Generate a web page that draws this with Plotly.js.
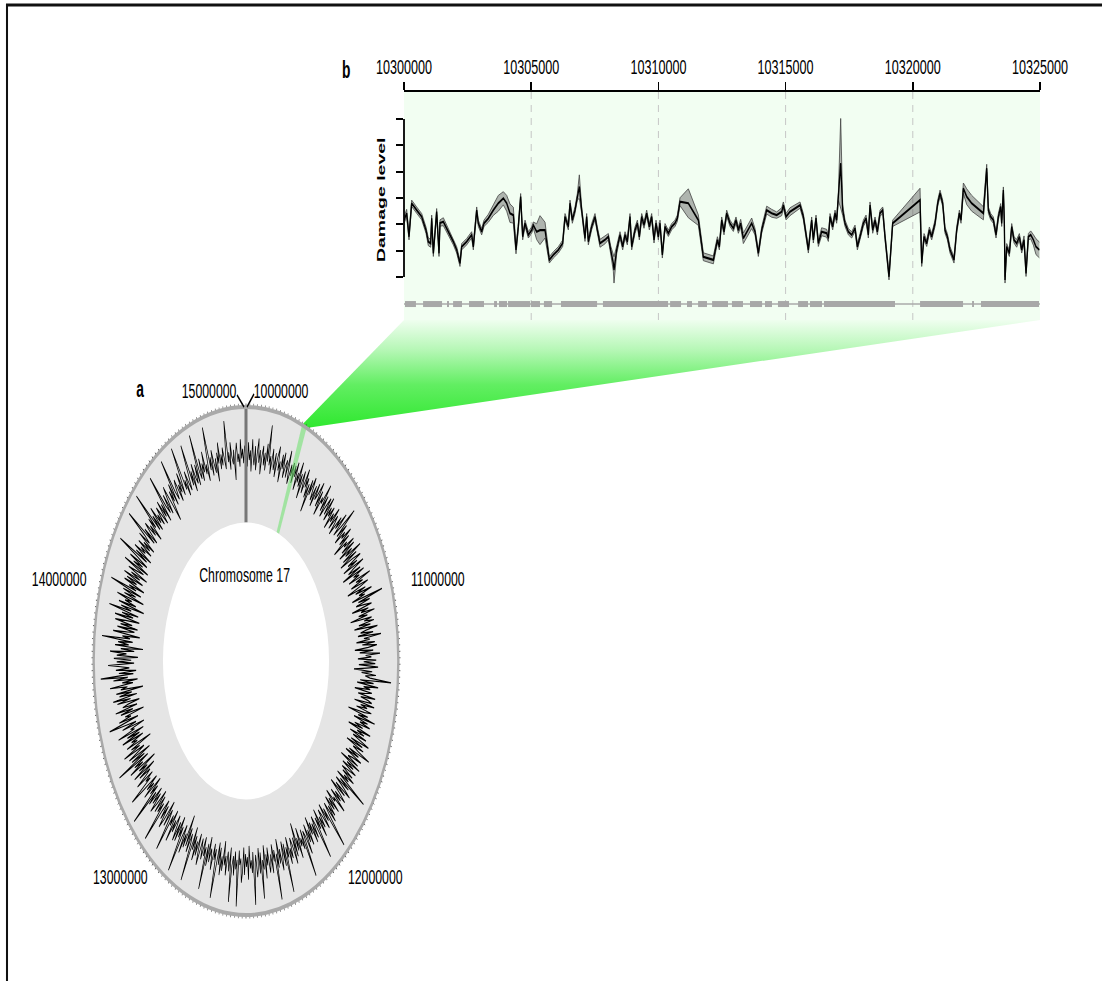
<!DOCTYPE html>
<html>
<head>
<meta charset="utf-8">
<script src="https://cdn.plot.ly/plotly-3.0.1.min.js"></script>
<style>
  html, body { margin: 0; padding: 0; overflow: hidden; background: #fff; }
  #wrap { width: 1102px; height: 981px; overflow: hidden; position: relative; }
  /* the figure is laid out wide and narrowed horizontally, so glyphs come out condensed */
  #fig { width: 1837px; height: 981px; transform: scaleX(0.599891); transform-origin: 0 0; }
</style>
</head>
<body>
<div id="wrap"><div id="fig"></div></div>
<script>
// ---------------- data ----------------
const CHROM_START = 10000000;
const CHROM_END = 15000000;
const CIRCLE_TICK_STEP = 20000;
const circleLabelText = ['15000000', '10000000', '11000000', '12000000', '13000000', '14000000'];

// damage level per bin along the chromosome segment (circular track), clockwise from the top
const circleDamage = [
  2.8,1.6,3.1,2.0,2.6,1.3,3.3,2.2,1.7,2.9,1.4,2.5,3.4,1.9,2.7,1.2,2.4,3.0,1.8,2.6,1.5,3.2,2.1,4.4,1.9,
  2.5,1.4,3.0,2.2,1.7,2.8,1.3,2.6,3.3,1.8,2.4,1.1,2.9,2.0,3.1,1.5,2.3,2.7,1.6,3.4,2.0,1.3,2.6,1.9,2.8,
  1.5,2.7,2.0,3.0,1.2,2.4,1.8,3.2,1.6,2.5,0.9,2.8,2.1,1.4,3.1,1.9,2.6,1.3,2.3,0.4,2.7,1.7,3.0,2.2,1.5,
  2.6,1.2,2.9,1.8,2.3,3.2,1.5,2.7,1.0,2.4,2.0,3.5,1.6,2.8,1.3,2.2,2.9,1.7,3.1,1.4,2.5,1.9,2.7,1.1,2.4,
  1.8,3.0,1.4,2.6,2.1,1.2,2.8,1.9,3.3,1.5,2.4,4.1,1.7,2.9,1.3,2.5,2.0,3.1,1.6,2.7,0.8,2.3,1.9,3.0,1.5,
  2.9,1.1,2.5,1.7,3.4,1.3,2.8,0.9,2.3,3.1,1.6,2.6,1.0,3.2,2.0,1.4,2.7,0.7,3.0,1.8,2.4,1.2,3.5,1.9,2.6,
  1.3,3.1,2.2,0.8,2.7,1.6,3.3,1.9,2.5,1.1,4.3,1.7,2.9,1.4,2.3,3.0,0.9,2.6,1.8,3.2,1.5,2.4,0.6,2.8,2.0,
  3.0,1.4,2.6,0.9,3.3,2.1,1.5,2.8,1.2,3.6,1.8,2.4,1.0,2.9,1.6,3.1,2.2,0.8,2.7,1.3,3.4,1.9,2.5,1.1,3.0,
  1.7,2.9,1.2,3.2,2.0,0.7,2.6,1.5,3.0,1.9,2.4,4.6,1.4,2.8,1.1,3.3,1.8,2.5,0.9,2.7,2.1,1.3,3.1,1.6,2.4,
  2.8,1.0,3.1,1.7,2.4,1.3,2.9,2.2,0.5,2.6,1.6,3.4,1.2,2.7,1.9,3.0,1.4,2.3,0.8,3.2,1.8,2.6,1.1,2.9,1.5,
  2.3,3.3,1.4,2.7,1.0,2.9,1.8,2.4,3.7,1.5,2.6,1.2,3.0,2.0,1.6,2.8,0.9,3.1,1.7,2.5,1.3,2.9,2.1,1.4,2.7,
  1.6,3.0,1.9,2.5,1.2,4.6,1.7,2.8,1.3,2.4,3.2,1.5,2.7,1.0,2.3,3.0,1.8,2.6,1.4,3.3,1.9,2.2,1.1,2.9,1.6,
  2.5,1.3,2.8,1.9,3.1,1.5,2.4,4.8,1.7,2.6,1.2,3.0,2.0,1.4,2.7,1.8,3.2,1.1,2.5,1.6,4.5,2.1,1.3,2.8,1.7,
  3.0,1.5,2.3,1.0,2.9,1.8,2.6,1.3,3.3,2.0,1.6,4.7,1.4,2.7,1.9,2.4,1.1,3.1,1.7,2.5,0.6,2.8,1.5,3.2,1.9,
  1.4,2.7,2.0,3.0,1.2,2.5,1.8,4.7,1.5,2.9,1.3,2.4,3.1,1.7,2.6,1.0,2.8,1.9,4.8,1.6,2.3,1.2,3.0,1.8,2.5,
  2.9,1.3,2.4,1.7,3.2,1.1,2.6,2.0,4.4,1.5,2.8,1.2,2.5,3.0,1.6,2.2,4.7,1.4,2.7,1.9,2.4,1.0,3.1,1.7,2.3,
  1.5,2.8,1.1,2.6,3.3,1.8,2.2,1.3,4.8,1.9,2.5,1.4,2.9,1.7,2.3,4.6,1.2,2.7,2.0,1.5,3.0,1.8,2.4,0.9,2.8,
  1.9,3.1,1.4,2.5,1.1,2.8,4.7,1.6,2.3,1.3,3.0,2.1,1.7,2.6,1.0,2.9,1.5,4.5,1.8,2.4,1.2,2.7,2.0,1.4,3.2,
  2.4,1.2,2.7,1.8,3.1,1.5,2.5,1.0,4.7,2.2,1.6,2.9,1.3,2.6,0.5,2.8,1.9,3.3,1.4,2.3,4.8,1.7,2.5,1.1,2.9,
  1.6,3.0,2.0,1.3,2.6,1.8,3.4,1.2,2.4,1.7,4.4,2.1,1.5,2.8,1.0,2.5,3.2,1.6,2.7,1.3,2.2,4.7,1.8,2.6,1.4,
  2.8,1.1,2.3,3.1,1.6,2.6,1.3,2.9,1.9,4.8,1.5,2.4,1.0,3.0,1.7,2.5,1.2,2.8,4.2,1.8,2.3,1.4,3.2,2.0,1.5,
  2.7,0.9,3.2,1.6,2.5,0.6,3.4,1.9,2.8,1.2,4.5,1.5,2.9,0.8,3.1,2.0,1.3,3.5,1.7,2.6,0.4,3.0,1.8,2.4,1.1,
  3.3,1.4,2.7,0.9,3.6,1.8,2.2,0.7,3.0,1.5,2.8,4.3,1.2,3.2,1.9,2.5,0.5,2.9,1.6,3.4,1.1,2.6,2.0,0.8,3.1,
  1.7,3.5,1.0,2.8,1.5,3.1,0.3,2.6,1.9,3.7,1.3,2.4,0.8,3.3,1.8,4.6,1.2,2.7,0.9,3.0,1.6,2.5,3.8,1.1,2.9,
  1.4,3.2,0.7,2.9,1.9,3.6,1.1,2.5,0.2,3.1,1.7,2.8,1.3,4.5,1.6,2.4,0.6,3.4,2.0,1.2,3.0,0.9,2.7,1.5,3.3,
  2.1,0.8,3.4,1.5,2.7,1.0,4.1,1.8,2.9,0.5,3.2,1.4,2.6,1.9,3.5,0.7,2.8,1.6,3.0,1.1,4.4,1.7,2.5,0.9,3.1,
  1.8,2.9,1.2,3.3,1.6,2.6,0.9,3.0,2.1,1.4,3.6,1.0,2.7,1.7,3.2,1.3,2.4,4.6,1.5,2.8,1.1,3.1,1.9,2.5,1.3,
  2.9,1.6,2.4,1.2,3.1,1.9,2.6,4.7,1.5,2.8,1.3,2.3,3.0,1.7,2.5,1.1,2.9,2.0,4.8,1.6,2.7,1.4,3.2,1.8,2.4,
  1.5,2.8,2.1,1.3,3.0,1.7,2.6,1.2,4.6,2.2,1.6,2.9,1.4,2.5,3.3,1.8,0.6,2.7,1.9,3.1,1.5,4.7,2.3,1.7,2.6,
  3.0,1.4,2.5,1.9,3.2,1.6,2.8,4.8,1.8,2.4,1.3,2.9,2.1,1.5,2.7,4.5,1.7,2.6,1.2,3.0,2.0,1.6,2.8,1.4,4.7,
  2.2,1.7,3.0,1.5,2.6,2.0,3.3,1.8,2.4,1.3,2.9,4.7,1.9,2.7,1.5,3.1,2.2,1.6,2.5,1.0,2.8,2.1,3.4,1.7,2.6,
  1.9,3.0,2.3,1.6,2.8,4.6,2.0,2.6,1.5,3.2,2.2,1.8,2.7,0.8,2.5,3.1,1.9,2.4,1.6,3.3,2.1,2.7,1.8,2.9,2.3
];

// zoomed window
const ZOOM_START = 10300000;
const ZOOM_END = 10325000;
const zoomTicks = [10300000, 10305000, 10310000, 10315000, 10320000, 10325000];
const damageTicks = [0, 1, 2, 3, 4, 5, 6];

const damagePos = [
  10300000,10300105,10300197,10300301,10300498,10300695,10300865,10300957,10301048,10301088,
  10301153,10301284,10301376,10301415,10301546,10301743,10301939,10302070,10302201,10302267,
  10302463,10302660,10302725,10302857,10302922,10303053,10303145,10303315,10303512,10303708,
  10303905,10304036,10304167,10304298,10304403,10304494,10304586,10304665,10304757,10304888,
  10305019,10305084,10305215,10305346,10305543,10305713,10305870,10306067,10306237,10306329,
  10306460,10306525,10306617,10306722,10306814,10306892,10306984,10307115,10307180,10307246,
  10307377,10307508,10307600,10307705,10307901,10308032,10308124,10308229,10308255,10308360,
  10308491,10308596,10308688,10308779,10308884,10308950,10309081,10309173,10309251,10309343,
  10309434,10309539,10309644,10309736,10309828,10309906,10309998,10310063,10310155,10310260,
  10310391,10310522,10310653,10310745,10310850,10311177,10311570,10311767,10312160,10312320,
  10312396,10312488,10312579,10312684,10312815,10312946,10313051,10313143,10313234,10313339,
  10313667,10313798,10313929,10314060,10314257,10314453,10314650,10314847,10314912,10315017,
  10315174,10315567,10315698,10315894,10316025,10316091,10316196,10316287,10316418,10316615,
  10316681,10316746,10316851,10316943,10317008,10317074,10317165,10317244,10317336,10317467,
  10317598,10317729,10317821,10317926,10318057,10318162,10318253,10318319,10318424,10318515,
  10318607,10318712,10318817,10318908,10319065,10319209,10320284,10320350,10320441,10320546,
  10320651,10320743,10320874,10320979,10321071,10321175,10321267,10321359,10321463,10321620,
  10321725,10321830,10321896,10321988,10322119,10322315,10322774,10322905,10322970,10323062,
  10323167,10323272,10323363,10323455,10323494,10323560,10323599,10323625,10323691,10323796,
  10323888,10323979,10324084,10324189,10324281,10324372,10324451,10324543,10324635,10324740,
  10324843,10324974
];
const damageMean = [
  2.16,2.42,1.53,2.80,2.54,2.29,1.78,1.34,1.28,2.23,
  0.90,2.48,0.90,2.05,2.10,1.72,1.34,1.03,0.52,1.15,
  1.34,1.60,1.15,2.54,2.04,1.72,2.04,2.23,2.54,2.80,
  2.99,2.80,2.42,2.35,1.03,1.91,3.05,1.53,2.04,1.60,
  1.78,1.97,1.72,1.78,1.78,0.65,0.84,1.03,1.28,2.29,
  1.91,2.80,2.16,2.54,3.05,3.43,2.54,1.47,2.29,1.34,
  1.91,2.29,1.78,1.28,1.41,1.53,1.03,0.52,0.27,1.03,
  1.60,1.15,1.60,1.34,2.29,1.15,1.78,2.04,1.53,2.29,
  1.97,2.42,1.91,2.29,1.41,2.04,1.53,2.04,0.84,1.91,
  1.66,1.91,2.04,2.23,2.86,2.80,2.16,0.77,0.65,1.41,
  1.15,2.16,1.72,2.42,2.04,1.85,2.16,1.78,2.04,1.47,
  2.04,1.72,0.90,1.78,2.54,2.42,2.35,2.48,2.73,2.29,
  2.48,2.73,2.29,1.03,2.16,1.41,2.23,1.28,1.72,1.66,
  1.47,2.29,1.91,2.42,2.16,3.05,4.32,2.54,2.04,1.72,
  1.60,1.85,1.15,1.53,2.04,2.23,1.60,2.73,1.78,2.16,
  1.72,2.42,2.54,1.53,0.01,2.04,2.92,0.52,1.53,1.28,
  1.78,1.53,2.04,2.80,3.18,2.80,1.78,1.53,1.03,0.65,
  1.78,2.42,2.16,3.37,3.05,2.80,2.42,4.13,2.54,2.29,
  2.16,1.60,2.29,2.67,2.04,3.30,2.04,-0.11,1.15,0.90,
  1.91,1.41,1.28,1.53,1.03,1.41,0.14,1.53,1.60,1.41,
  1.15,1.03
];
// half-width of the interval drawn around the mean
const damageSpread = [
  0.12,0.15,0.12,0.12,0.12,0.12,0.12,0.15,0.15,0.12,
  0.12,0.12,0.12,0.12,0.15,0.12,0.12,0.12,0.12,0.12,
  0.12,0.12,0.12,0.12,0.12,0.12,0.12,0.15,0.20,0.30,
  0.25,0.30,0.35,0.30,0.15,0.12,0.12,0.12,0.12,0.12,
  0.12,0.12,0.30,0.55,0.30,0.12,0.12,0.12,0.12,0.12,
  0.12,0.12,0.12,0.12,0.12,0.45,0.12,0.12,0.12,0.12,
  0.12,0.12,0.12,0.15,0.15,0.12,0.15,0.30,0.50,0.15,
  0.12,0.12,0.12,0.12,0.12,0.12,0.12,0.12,0.12,0.12,
  0.12,0.12,0.12,0.12,0.12,0.12,0.12,0.12,0.12,0.12,
  0.12,0.12,0.12,0.12,0.15,0.55,0.20,0.15,0.15,0.12,
  0.12,0.12,0.12,0.12,0.12,0.12,0.12,0.12,0.15,0.20,
  0.20,0.12,0.12,0.12,0.15,0.15,0.12,0.15,0.12,0.12,
  0.15,0.12,0.12,0.12,0.12,0.12,0.12,0.12,0.15,0.15,
  0.12,0.12,0.12,0.12,0.12,0.15,1.70,0.20,0.12,0.12,
  0.12,0.12,0.12,0.12,0.12,0.12,0.12,0.12,0.12,0.12,
  0.12,0.12,0.12,0.12,0.12,0.12,0.45,0.12,0.12,0.12,
  0.12,0.12,0.12,0.12,0.12,0.12,0.12,0.12,0.12,0.12,
  0.12,0.12,0.12,0.20,0.30,0.30,0.25,0.15,0.12,0.12,
  0.12,0.12,0.12,0.12,0.12,0.12,0.12,0.12,0.12,0.12,
  0.12,0.12,0.15,0.12,0.12,0.15,0.12,0.12,0.15,0.20,
  0.30,0.30
];

// gene model in the window (exon blocks)
const exonStart = [10300040,10300750,10301690,10301930,10302555,10303540,10303735,10304090,10304990,10305500,
  10306170,10307820,10310460,10311125,10311560,10312110,10312890,10313600,10314190,10314700,
  10315490,10315960,10316510,10320285,10322330,10322680];
const exonEnd = [10300470,10301495,10301770,10302280,10303145,10303655,10304050,10304955,10305345,10305820,
  10307590,10310380,10310890,10311320,10311910,10312735,10313325,10314075,10314465,10315135,
  10315880,10316430,10319300,10321975,10322405,10324960];

// ---------------- layout geometry (page pixels as shown) ----------------
const VIEW_W = 1102, W = 1837, H = 981;
const SX = VIEW_W / W;
const FONT = 'Liberation Sans, Arial, Helvetica, sans-serif';
const fx = x => x / VIEW_W;
const fy = y => 1 - y / H;

const panelB = { x0: 404, x1: 1040, y0: 92, y1: 320 };
const ring = { cx: 246, cy: 661, R: 254, hole: 0.545 };
const R_MIN = -1.9, R_MAX = 5.3;       // radial scale of the circular track
const GENE_LEVEL = 0.07;               // gene track height inside panel b

const toDeg = g => (g - CHROM_START) / (CHROM_END - CHROM_START) * 360;
const binSize = (CHROM_END - CHROM_START) / circleDamage.length;
const circleTheta = circleDamage.map((_, i) => toDeg(CHROM_START + (i + 0.5) * binSize));

// page position of a chromosome coordinate on the outer edge of the ring
function ringEdge(g) {
  const a = toDeg(g) * Math.PI / 180;
  return [ring.cx + ring.R * SX * Math.sin(a), ring.cy - ring.R * Math.cos(a)];
}

const lower = damageMean.map((m, i) => m - damageSpread[i]);
const upper = damageMean.map((m, i) => m + damageSpread[i]);

// gene exons as separated segments
const exonX = [], exonY = [];
exonStart.forEach((s, i) => { exonX.push(s, exonEnd[i], null); exonY.push(GENE_LEVEL, GENE_LEVEL, null); });

// zoom funnel from the ring to panel b
const apexA = ringEdge(ZOOM_START), apexB = ringEdge(ZOOM_END);
const funnelX = [panelB.x0, panelB.x1, apexB[0], apexA[0], panelB.x0];
const funnelY = [panelB.y1, panelB.y1, apexB[1], apexA[1], panelB.y1];

const zs = toDeg(ZOOM_START), ze = toDeg(ZOOM_END);

const traces = [
  { type: 'scatter', x: damagePos, y: lower, mode: 'lines', line: { color: '#444', width: 1 },
    hoverinfo: 'skip', xaxis: 'x', yaxis: 'y' },
  { type: 'scatter', x: damagePos, y: upper, mode: 'lines', line: { color: '#444', width: 1 },
    fill: 'tonexty', fillcolor: 'rgba(90,90,90,0.45)', hoverinfo: 'skip', xaxis: 'x', yaxis: 'y' },
  { type: 'scatter', x: damagePos, y: damageMean, mode: 'lines', line: { color: '#000', width: 2.2 },
    xaxis: 'x', yaxis: 'y', name: 'Damage level' },
  { type: 'scatter', x: [ZOOM_START, ZOOM_END], y: [GENE_LEVEL, GENE_LEVEL], mode: 'lines',
    line: { color: '#aaaaaa', width: 1.5 }, hoverinfo: 'skip', xaxis: 'x', yaxis: 'y3' },
  { type: 'scatter', x: exonX, y: exonY, mode: 'lines', line: { color: '#a8a8a8', width: 6 },
    hoverinfo: 'skip', xaxis: 'x', yaxis: 'y3' },
  { type: 'scatter', x: funnelX, y: funnelY, mode: 'lines', line: { width: 0 }, fill: 'toself',
    fillgradient: { type: 'vertical',
      colorscale: [[0, '#2fe82f'], [0.4, '#62ee62'], [0.72, '#b5f7b5'], [1, '#effeef']] },
    hoverinfo: 'skip', xaxis: 'x2', yaxis: 'y2' },
  { type: 'scatterpolar', r: circleDamage, theta: circleTheta, mode: 'lines',
    line: { color: '#000', width: 1.2 }, subplot: 'polar', name: 'Chromosome 17' },
  { type: 'scatterpolar', r: [R_MAX, R_MAX, R_MIN, R_MIN, R_MAX], theta: [zs, ze, ze, zs, zs],
    mode: 'lines', line: { width: 0 }, fill: 'toself', fillcolor: 'rgba(105,225,105,0.55)',
    hoverinfo: 'skip', subplot: 'polar' },
  { type: 'scatterpolar', r: [R_MIN, R_MAX], theta: [0, 0], mode: 'lines',
    line: { color: '#777777', width: 5 }, hoverinfo: 'skip', subplot: 'polar' }
];

const txt = (text, x, y, size, extra) => Object.assign({
  text, x: fx(x), y: fy(y), xref: 'paper', yref: 'paper', showarrow: false,
  xanchor: 'center', yanchor: 'middle', font: { family: FONT, size, color: '#000' }
}, extra || {});

const annotations = [
  txt('<b>b</b>', 346, 70, 23),
  txt('<b>a</b>', 140, 389, 23),
  txt('<b>Damage level</b>', 381, 200, 19.5, { textangle: -90 }),
  txt('Chromosome 17', ring.cx - 1, 574, 20.5),
  txt(circleLabelText[0], 209, 390, 20.5),
  txt(circleLabelText[1], 281, 390, 20.5),
  txt(circleLabelText[2], 438, 578, 20.5),
  txt(circleLabelText[3], 375, 876, 20.5),
  txt(circleLabelText[4], 120, 876, 20.5),
  txt(circleLabelText[5], 59, 578, 20.5)
];

const topY = ring.cy - ring.R;
const shapes = [
  { type: 'rect', xref: 'paper', yref: 'paper', x0: fx(panelB.x0), x1: fx(panelB.x1),
    y0: fy(panelB.y1), y1: fy(panelB.y0), fillcolor: '#f2fef2', line: { width: 0 }, layer: 'below' },
  { type: 'line', xref: 'x domain', yref: 'y', x0: 0, x1: 0, y0: damageTicks[0],
    y1: damageTicks[damageTicks.length - 1], line: { color: '#000', width: 3 } },
  // outer rim of the ring
  { type: 'circle', xref: 'paper', yref: 'paper',
    x0: fx(ring.cx - ring.R * SX), x1: fx(ring.cx + ring.R * SX), y0: fy(ring.cy + ring.R), y1: fy(ring.cy - ring.R),
    line: { color: '#a9a9a9', width: 4 }, fillcolor: 'rgba(0,0,0,0)', layer: 'above' },
  // leader lines for the two labels sharing the start/end position
  { type: 'line', xref: 'paper', yref: 'paper', x0: fx(ring.cx - 2), y0: fy(topY), x1: fx(ring.cx - 9), y1: fy(topY - 12),
    line: { color: '#000', width: 2 } },
  { type: 'line', xref: 'paper', yref: 'paper', x0: fx(ring.cx + 1), y0: fy(topY), x1: fx(ring.cx + 8), y1: fy(topY - 13),
    line: { color: '#000', width: 2 } },
  // frame
  { type: 'line', xref: 'paper', yref: 'paper', x0: fx(6), x1: 1, y0: fy(5), y1: fy(5),
    line: { color: '#111', width: 3 }, layer: 'above' },
  { type: 'line', xref: 'paper', yref: 'paper', x0: fx(7), x1: fx(7), y0: fy(4), y1: 0,
    line: { color: '#111', width: 3.4 }, layer: 'above' }
];

const layout = {
  width: W, height: H, margin: { l: 0, r: 0, t: 0, b: 0 },
  paper_bgcolor: '#ffffff', plot_bgcolor: 'rgba(0,0,0,0)', showlegend: false,
  font: { family: FONT, color: '#000' },
  xaxis: {
    domain: [fx(panelB.x0), fx(panelB.x1)], anchor: 'y', side: 'top',
    range: [ZOOM_START, ZOOM_END], tickmode: 'array', tickvals: zoomTicks, ticktext: zoomTicks.map(String),
    ticks: 'outside', ticklen: 8, tickwidth: 2.5, tickcolor: '#000',
    showline: true, linewidth: 2, linecolor: '#000',
    showgrid: true, gridcolor: '#c4c4c4', gridwidth: 1.6, griddash: '7px,6px',
    zeroline: false, tickfont: { family: FONT, size: 21, color: '#000' }, fixedrange: true
  },
  yaxis: {
    domain: [fy(panelB.y1), fy(panelB.y0)], anchor: 'x',
    range: [-1.633, 7.026], tickmode: 'array', tickvals: damageTicks,
    ticks: 'outside', ticklen: 13, tickwidth: 2, tickcolor: '#000',
    showticklabels: false, showline: false, showgrid: false, zeroline: false, fixedrange: true
  },
  yaxis3: { overlaying: 'y', anchor: 'x', range: [0, 1], visible: false, fixedrange: true },
  xaxis2: { domain: [0, 1], anchor: 'y2', range: [0, VIEW_W], visible: false, fixedrange: true },
  yaxis2: { domain: [0, 1], anchor: 'x2', range: [H, 0], visible: false, fixedrange: true },
  polar: {
    domain: { x: [fx(ring.cx - ring.R * SX), fx(ring.cx + ring.R * SX)], y: [fy(ring.cy + ring.R), fy(ring.cy - ring.R)] },
    hole: ring.hole, bgcolor: '#e5e5e5',
    radialaxis: { visible: false, range: [R_MIN, R_MAX] },
    angularaxis: {
      rotation: 90, direction: 'clockwise', thetaunit: 'degrees',
      tickmode: 'linear', tick0: 0, dtick: toDeg(CHROM_START + CIRCLE_TICK_STEP),
      ticks: 'outside', ticklen: 3, tickwidth: 1, tickcolor: '#555',
      showticklabels: false, showgrid: false, showline: false
    }
  },
  shapes, annotations
};

Plotly.newPlot('fig', traces, layout, { staticPlot: true, displayModeBar: false });
</script>
</body>
</html>
